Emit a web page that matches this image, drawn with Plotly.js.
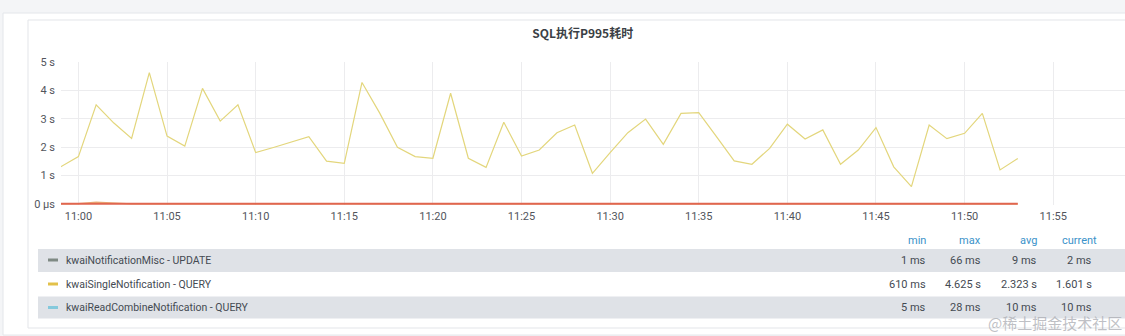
<!DOCTYPE html>
<html>
<head>
<meta charset="utf-8">
<script src="https://cdn.plot.ly/plotly-3.0.1.min.js"></script>
<style>
html,body{margin:0;padding:0;background:#f4f5f7;}
#chart{width:1125px;height:336px;}
</style>
</head>
<body>
<div id="chart"></div>
<script>
// ---- data ----
const times = ["10:59","11:00","11:01","11:02","11:03","11:04","11:05","11:06","11:07","11:08","11:09",
  "11:10","11:11","11:12","11:13","11:14","11:15","11:16","11:17","11:18","11:19",
  "11:20","11:21","11:22","11:23","11:24","11:25","11:26","11:27","11:28","11:29",
  "11:30","11:31","11:32","11:33","11:34","11:35","11:36","11:37","11:38","11:39",
  "11:40","11:41","11:42","11:43","11:44","11:45","11:46","11:47","11:48","11:49",
  "11:50","11:51","11:52","11:53"];
const singleQuery = [1.31,1.67,3.49,2.85,2.31,4.625,2.39,2.04,4.07,2.92,3.49,
  1.81,1.99,2.18,2.37,1.51,1.43,4.28,3.20,2.00,1.67,
  1.61,3.90,1.61,1.29,2.88,1.69,1.90,2.51,2.78,1.08,
  1.81,2.51,2.99,2.10,3.19,3.22,2.37,1.52,1.40,1.96,
  2.81,2.29,2.61,1.40,1.90,2.69,1.31,0.61,2.78,2.30,
  2.49,3.19,1.20,1.601];
const miscUpdate = [0.004,0.012,0.066,0.031,0.008,0.005,0.003,0.006,0.004,0.009,0.005,
  0.003,0.007,0.004,0.006,0.012,0.005,0.004,0.008,0.003,0.006,
  0.005,0.011,0.004,0.003,0.007,0.006,0.004,0.009,0.005,0.003,
  0.008,0.004,0.006,0.010,0.005,0.003,0.007,0.004,0.006,0.012,
  0.005,0.004,0.008,0.003,0.006,0.009,0.004,0.001,0.007,0.005,
  0.004,0.008,0.003,0.002];
const readCombine = [0.009,0.010,0.012,0.008,0.011,0.028,0.010,0.009,0.013,0.008,0.010,
  0.007,0.009,0.011,0.010,0.008,0.006,0.014,0.011,0.009,0.008,
  0.010,0.012,0.009,0.005,0.011,0.008,0.009,0.010,0.012,0.007,
  0.009,0.010,0.011,0.008,0.012,0.013,0.010,0.008,0.007,0.009,
  0.011,0.010,0.012,0.007,0.009,0.011,0.008,0.006,0.012,0.010,
  0.011,0.013,0.008,0.010];
const seriesNames = ["kwaiNotificationMisc - UPDATE","kwaiSingleNotification - QUERY","kwaiReadCombineNotification - QUERY"];
const swatchColors = ["#7f8a84","#e2c14a","#84c9dc"];
const statHeaders = ["min","max","avg","current"];
const statMin = ["1 ms","610 ms","5 ms"];
const statMax = ["66 ms","4.625 s","28 ms"];
const statAvg = ["9 ms","2.323 s","10 ms"];
const statCurrent = ["2 ms","1.601 s","10 ms"];
const yTickVals = [0,1,2,3,4,5];
const yTickText = ["0 µs","1 s","2 s","3 s","4 s","5 s"];
const xTickVals = ["11:00","11:05","11:10","11:15","11:20","11:25","11:30","11:35","11:40","11:45","11:50","11:55"];
const titleText = "SQL执行P995耗时";

// ---- geometry helpers ----
const W = 1125, H = 336;
const L = 61, T = 62, PW = W - L, PH = 143;
const px = x => (x - L) / PW;
const py = y => (T + PH - y) / PH;
const day = "2024-01-01 ";
const toDate = t => day + t;

const xs = times.map(toDate);

const traces = [
  {x: xs, y: singleQuery, type: "scatter", mode: "lines", name: seriesNames[1],
   line: {color: "#e3d67c", width: 1.2}, hoverinfo: "skip"},
  {x: xs, y: miscUpdate, type: "scatter", mode: "lines", name: seriesNames[0],
   line: {color: "#eab37a", width: 1.2}, hoverinfo: "skip"},
  {x: xs, y: readCombine, type: "scatter", mode: "lines", name: seriesNames[2],
   line: {color: "#e0664f", width: 2}, hoverinfo: "skip"}
];

const shapes = [];
const annotations = [];
// panel backgrounds
shapes.push({type:"rect", xref:"paper", yref:"paper", x0:px(3), x1:px(1130), y0:py(335), y1:py(13),
  fillcolor:"#ffffff", line:{color:"#e4e6ea", width:1}, layer:"below"});
shapes.push({type:"rect", xref:"paper", yref:"paper", x0:px(28), x1:px(1130), y0:py(328), y1:py(20),
  fillcolor:"#ffffff", line:{color:"#e3e5e9", width:1}, layer:"below"});

// legend table rows
const rowCenters = [260, 284, 307.5];
const rowBg = ["#dfe2e7", "#ffffff", "#dfe2e7"];
const rowTop = [249, 272, 296.5];
const rowBot = [272, 296.5, 318.5];
for (let i = 0; i < 3; i++) {
  if (rowBg[i] !== "#ffffff") {
    shapes.push({type:"rect", xref:"paper", yref:"paper", x0:px(38), x1:px(1130),
      y0:py(rowBot[i]), y1:py(rowTop[i]), fillcolor:rowBg[i], line:{width:0}, layer:"below"});
  }
  shapes.push({type:"line", xref:"paper", yref:"paper", x0:px(48), x1:px(58),
    y0:py(rowCenters[i]), y1:py(rowCenters[i]), line:{color:swatchColors[i], width:3}});
  annotations.push({xref:"paper", yref:"paper", x:px(64), y:py(rowCenters[i]), xanchor:"left", yanchor:"middle",
    text:seriesNames[i], showarrow:false, font:{family:"Roboto, sans-serif", size:10.5, color:"#444a52"}});
  const cols = [[statMin, 927.5],[statMax, 983],[statAvg, 1038.5],[statCurrent, 1094]];
  cols.forEach(([arr, xr]) => {
    annotations.push({xref:"paper", yref:"paper", x:px(xr), y:py(rowCenters[i]), xanchor:"right", yanchor:"middle",
      text:arr[i], showarrow:false, font:{family:"Roboto, sans-serif", size:11, color:"#444a52"}});
  });
}
// headers
const headerPos = [[927.5,"right"],[983,"right"],[1038.5,"right"],[1060,"left"]];
statHeaders.forEach((h, j) => {
  annotations.push({xref:"paper", yref:"paper", x:px(headerPos[j][0]), y:py(240), xanchor:headerPos[j][1], yanchor:"middle",
    text:h, showarrow:false, font:{family:"Roboto, sans-serif", size:11, color:"#3a92c9"}});
});
// watermark
annotations.push({xref:"paper", yref:"paper", x:px(1124), y:py(322), xanchor:"right", yanchor:"middle",
  text:"@稀土掘金技术社区", showarrow:false, font:{family:"Noto Sans CJK SC, sans-serif", size:15, color:"rgba(170,172,178,0.75)"}});

const layout = {
  width: W, height: H,
  margin: {l: L, r: 0, t: T, b: H - T - PH, pad: 0},
  paper_bgcolor: "#f4f5f7",
  plot_bgcolor: "rgba(0,0,0,0)",
  showlegend: false,
  title: {text: titleText, x: 0.518, xref: "container", xanchor: "center", y: 1 - 34/H, yref: "container", yanchor: "middle",
    font: {family: "Noto Sans CJK SC, sans-serif", size: 12, color: "#3b3f45", weight: 600}},
  xaxis: {
    type: "date",
    range: [day + "10:59:01", day + "11:59:03"],
    tickvals: xTickVals.map(toDate),
    ticktext: xTickVals,
    showgrid: true, gridcolor: "#ececee", gridwidth: 1,
    zeroline: false, showline: false, ticks: "",
    tickfont: {family: "Roboto, sans-serif", size: 11, color: "#52555c"},
    ticklabelstandoff: 3
  },
  yaxis: {
    range: [-0.035, 5],
    tickvals: yTickVals, ticktext: yTickText,
    showgrid: true, gridcolor: "#ececee", gridwidth: 1,
    zeroline: false, showline: false, ticks: "",
    tickfont: {family: "Roboto, sans-serif", size: 11, color: "#52555c"},
    ticklabelstandoff: 5
  },
  shapes: shapes,
  annotations: annotations
};

Plotly.newPlot("chart", traces, layout, {displayModeBar: false, staticPlot: true});
</script>
</body>
</html>
